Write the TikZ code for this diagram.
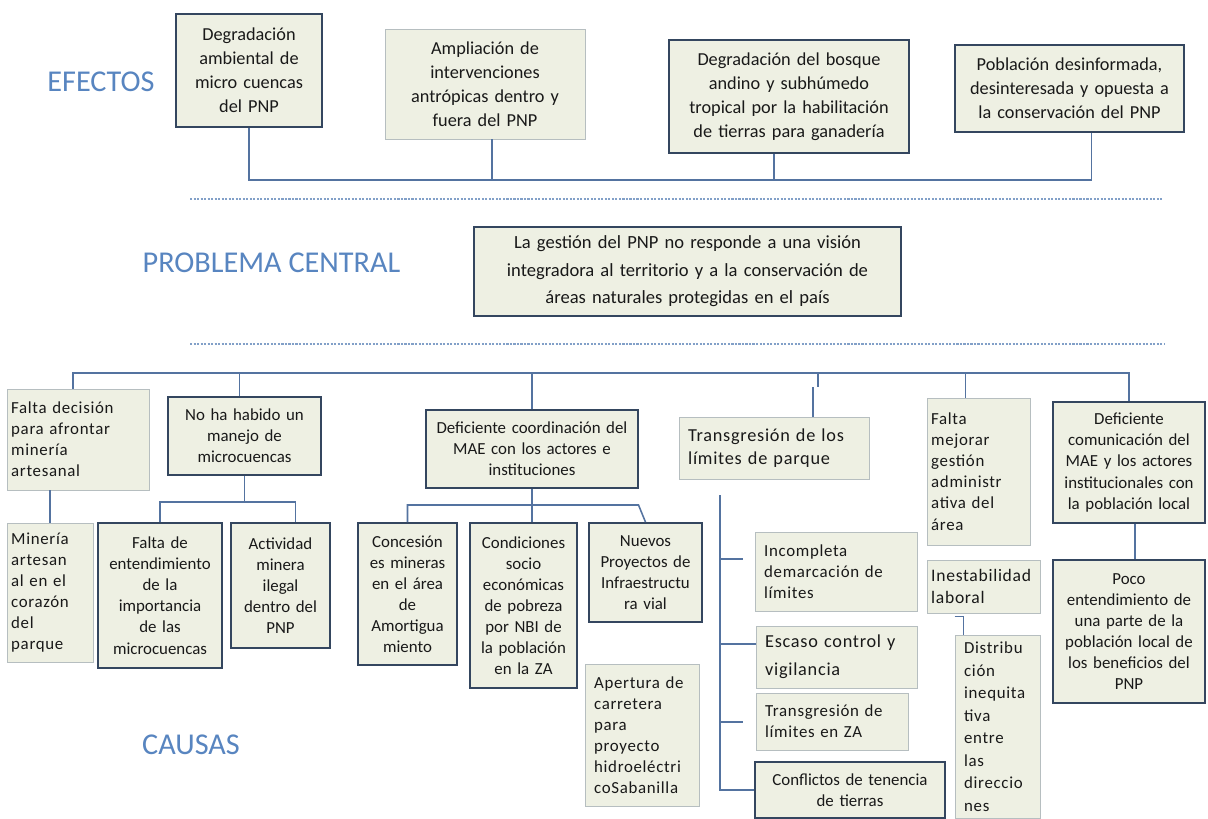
\documentclass[tikz,border=0pt]{standalone}
\usepackage{fontspec}
\setmainfont{Carlito}
\newfontfamily\spacedfont[LetterSpace=4]{Carlito}
\usetikzlibrary{calc}
\definecolor{boxfill}{RGB}{238,240,227}
\definecolor{darkline}{RGB}{52,70,95}
\definecolor{lightline}{RGB}{182,190,192}
\definecolor{connblue}{RGB}{84,115,160}
\definecolor{titleblue}{RGB}{88,133,192}
\definecolor{sepblue}{RGB}{130,160,200}
\tikzset{
  sz/.style 2 args={minimum width=#1*0.025cm, minimum height=#2*0.025cm, text width=#1*0.025cm-6pt},
  szp/.style 2 args={minimum width=#1*0.025cm, minimum height=#2*0.025cm, inner xsep=6.5pt, text width=#1*0.025cm-13pt},
  box/.style={rectangle, fill=boxfill, inner xsep=3pt, inner ysep=2pt, text=black!90},
  darkbox/.style={box, draw=darkline, line width=1.3pt, align=center, font=\fontsize{12}{15}\selectfont},
  lightbox/.style={box, draw=lightline, line width=0.7pt, align=left, font=\spacedfont\fontsize{12}{15}\selectfont},
  effdark/.style={darkbox, font=\fontsize{13}{17}\selectfont},
  efflight/.style={lightbox, align=center, font=\fontsize{13}{17}\selectfont},
  title/.style={text=titleblue, font=\fontsize{21.5}{25}\selectfont},
  conn/.style={draw=connblue, line width=1.1pt},
  sep/.style={draw=sepblue, line width=1pt, dash pattern=on 1.5pt off 1pt}
}
\begin{document}
\begin{tikzpicture}[x=0.025cm, y=-0.025cm]
\fill[white] (0,0) rectangle (1208,819);
\useasboundingbox (0,0) rectangle (1208,819);

\node[title] (efectos) at (101,82) {EFECTOS};
\node[title] (problema) at (271.5,263) {PROBLEMA CENTRAL};
\node[title] (causas) at (191,745) {CAUSAS};

\node[effdark, sz={146}{113}] (e1) at (249,70.5) {Degradación\\ambiental de\\micro cuencas\\del PNP};
\node[efflight, sz={200}{110}] (e2) at (485,84) {Ampliación de\\intervenciones\\antrópicas dentro y\\fuera del PNP};
\node[effdark, sz={240}{113}] (e3) at (789,96.5) {Degradación del bosque\\andino y subhúmedo\\tropical por la habilitación\\de tierras para ganadería};
\node[effdark, sz={229}{87}] (e4) at (1069.5,88.5) {Población desinformada,\\desinteresada y opuesta a\\la conservación del PNP};

\coordinate (ebus) at (0,180);
\draw[conn] (e1.south) -- (e1.south |- ebus) -- ($(e4.south |- ebus)+(22,0)$) -- ($(e4.south)+(22,0)$);
\draw[conn] ($(e2.south)+(7,0)$) -- ($(e2.south |- ebus)+(7,0)$);
\draw[conn] ($(e3.south)+(-15,0)$) -- ($(e3.south |- ebus)+(-15,0)$);

\draw[sep] (190,199) -- (1162,199);

\node[darkbox, sz={427}{89}, font=\fontsize{13.2}{19.5}\selectfont] (central) at (687.5,271.5) {La gestión del PNP no responde a una visión\\integradora al territorio y a la conservación de\\áreas naturales protegidas en el país};

\draw[sep] (190,344) -- (1165,344);

\node[lightbox, sz={142}{101}] (c1) at (78,439.5) {Falta decisión\\para afrontar\\minería\\artesanal};
\node[darkbox, sz={153}{78}] (c2) at (244.5,436) {No ha habido un\\manejo de\\microcuencas};
\node[darkbox, sz={212}{78}] (c3) at (532,449) {Deficiente coordinación del\\MAE con los actores e\\instituciones};
\node[lightbox, szp={190}{62}, font=\spacedfont\fontsize{13}{16}\selectfont] (c4) at (774,448) {Transgresión de los\\límites de parque};
\node[lightbox, sz={103}{147}] (c5) at (978.5,471.5) {Falta\\mejorar\\gestión\\administr\\ativa del\\área};
\node[darkbox, sz={152}{121}] (c6) at (1129,462.5) {Deficiente\\comunicación del\\MAE y los actores\\institucionales con\\la población local};

\node[lightbox, sz={86}{139}] (d1) at (50,592.5) {Minería\\artesan\\al en el\\corazón\\del\\parque};
\node[darkbox, sz={124}{145}] (d2) at (160,595.5) {Falta de\\entendimiento\\de la\\importancia\\de las\\microcuencas};
\node[darkbox, sz={99}{125}] (d3) at (280.5,585.5) {Actividad\\minera\\ilegal\\dentro del\\PNP};
\node[darkbox, sz={99}{142}] (d4) at (407.5,594) {Concesión\\es mineras\\en el área\\de\\Amortigua\\miento};
\node[darkbox, sz={107}{165}] (d5) at (523.5,605.5) {Condiciones\\socio\\económicas\\de pobreza\\por NBI de\\la población\\en la ZA};
\node[darkbox, sz={113}{99}] (d6) at (645.5,572.5) {Nuevos\\Proyectos de\\Infraestructu\\ra vial};
\node[lightbox, szp={114}{142}] (d7) at (642,735) {Apertura de\\carretera\\para\\proyecto\\hidroeléctri\\coSabanilla};
\node[lightbox, szp={162}{79}] (d8) at (836,571.5) {Incompleta\\demarcación de\\límites};
\node[lightbox, szp={161}{62}, font=\spacedfont\fontsize{13}{16}\selectfont] (d9) at (836.5,657) {Escaso control y\\[4pt]vigilancia};
\node[lightbox, szp={152}{57}] (d10) at (832,721.5) {Transgresión de\\límites en ZA};
\node[darkbox, sz={190}{56}] (d11) at (850,790) {Conflictos de tenencia\\de tierras};
\node[lightbox, sz={113}{53}, font=\spacedfont\fontsize{12.5}{15}\selectfont] (d12) at (983.5,586.5) {Inestabilidad\\laboral};
\node[lightbox, szp={85}{183}, font=\spacedfont\fontsize{12}{16}\selectfont] (d13) at (997.5,726.5) {Distribu\\ción\\inequita\\tiva\\entre\\las\\direccio\\nes};
\node[darkbox, sz={152}{143}] (d14) at (1129,631.5) {Poco\\entendimiento de\\una parte de la\\población local de\\los beneficios del\\PNP};

\coordinate (cbus) at (0,373);
\draw[conn] ($(c1.north)+(-5,0)$) -- ($(c1.north |- cbus)+(-5,0)$) -- (c6.north |- cbus) -- (c6.north);
\draw[conn] ($(c2.north)+(-5,0)$) -- ($(c2.north |- cbus)+(-5,0)$);
\draw[conn] (c3.north) -- (c3.north |- cbus);
\draw[conn] ($(c4.north |- cbus)+(44,0)$) -- ++(0,14);
\draw[conn] ($(c4.north)+(39,0)$) -- ++(0,-30);
\draw[conn] ($(c5.north)+(-13,0)$) -- ($(c5.north |- cbus)+(-13,0)$);

\draw[conn] (d1.north) -- (d1.north |- c1.south);
\coordinate (c2bus) at (0,502);
\draw[conn] (c2.south) -- (c2.south |- c2bus);
\draw[conn] (d2.north) -- (d2.north |- c2bus) -- ($(d3.north |- c2bus)+(15,0)$) -- ($(d3.north)+(15,0)$);
\coordinate (c3bus) at (0,505);
\draw[conn] (c3.south) -- (c3.south |- d5.north);
\draw[conn] (d4.north) -- (d4.north |- c3bus) -- ($(d6.north |- c3bus)+(-7,0)$) -- (d6.north);

\coordinate (spine) at (720,495);
\coordinate (b1) at (743,559);
\coordinate (b2) at (0,644);
\coordinate (b3) at (743,722);
\draw[conn] (spine) |- (d11.west);
\draw[conn] (b1 -| spine) -- (b1);
\draw[conn] (b2 -| spine) -- (b2 -| d9.west);
\draw[conn] (b3 -| spine) -- (b3);

\draw[conn] ($(d12.south west)+(28,3)$) -| ($(d13.north west)+(9,0)$);
\draw[conn] ($(c6.south)+(6,0)$) -- ($(d14.north)+(6,0)$);
\end{tikzpicture}
\end{document}
